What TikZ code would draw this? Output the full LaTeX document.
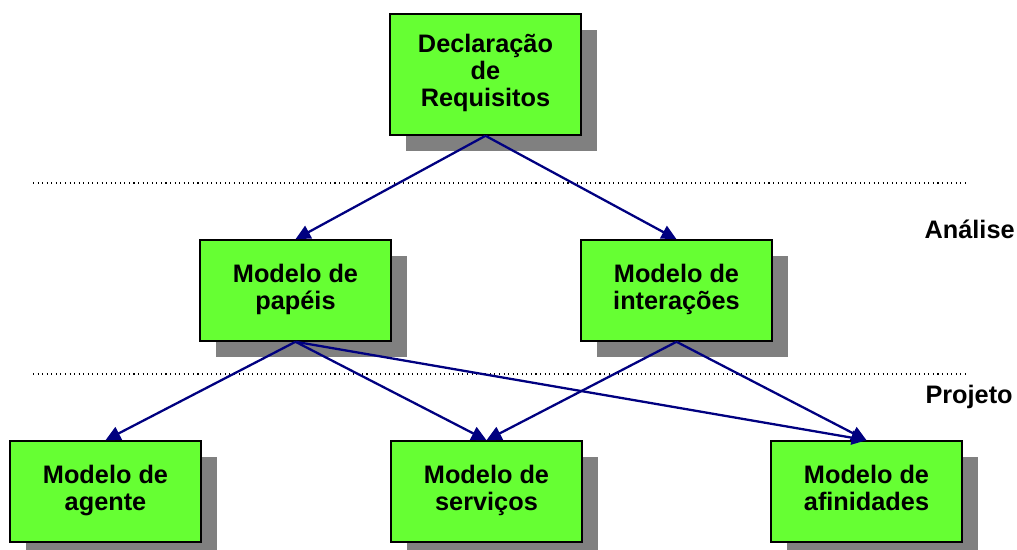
\documentclass[tikz,border=0pt]{standalone}
\usepackage{fontspec}
\setmainfont{Liberation Sans}
\usetikzlibrary{arrows.meta,shadows}
\definecolor{boxgreen}{RGB}{102,255,51}
\definecolor{arrnavy}{RGB}{0,0,128}
\begin{document}
\begin{tikzpicture}[x=0.02cm, y=-0.02cm,
		mod/.style={rectangle, draw=black, line width=0.9pt, fill=boxgreen, minimum width=3.82cm, minimum height=2.02cm, align=center, inner sep=0pt,
			font=\fontsize{14.4}{15.4}\selectfont\bfseries,
			execute at begin node=\strut, execute at end node=\strut,
			drop shadow={shadow xshift=0.32cm, shadow yshift=-0.32cm, fill=gray, opacity=1}},
		arr/.style={draw=arrnavy, line width=1.3pt, -{Triangle[width=8pt, length=8.5pt]}},
		lbl/.style={anchor=east, inner sep=0pt, font=\fontsize{14.4}{15.4}\selectfont\bfseries}]
		\useasboundingbox (0,0) rectangle (1017,550);
		\draw[dotted, line width=0.6pt] (33,183) -- (968,183);
		\draw[dotted, line width=0.6pt] (33,374) -- (968,374);
		\node[mod, minimum height=2.42cm] (decl) at (485.5,74.5) {Declaração\\de\\Requisitos};
		\node[mod] (pap) at (295.5,290.5) {Modelo de\\papéis};
		\node[mod] (inter) at (676.5,290.5) {Modelo de\\interações};
		\node[mod] (agt) at (105.5,491.5) {Modelo de\\agente};
		\node[mod] (serv) at (486.5,491.5) {Modelo de\\serviços};
		\node[mod] (afin) at (866.5,491.5) {Modelo de\\afinidades};
		\draw[arr] (decl.south) -- (pap.north);
		\draw[arr] (decl.south) -- (inter.north);
		\draw[arr] (pap.south) -- (agt.north);
		\draw[arr] (pap.south) -- (serv.north);
		\draw[arr] (pap.south) -- (afin.north);
		\draw[arr] (inter.south) -- (serv.north);
		\draw[arr] (inter.south) -- (afin.north);
		\node[lbl] (anal) at (1015,229) {Análise};
		\node[lbl] (proj) at (1013,397) {Projeto};
	\end{tikzpicture}
\end{document}
